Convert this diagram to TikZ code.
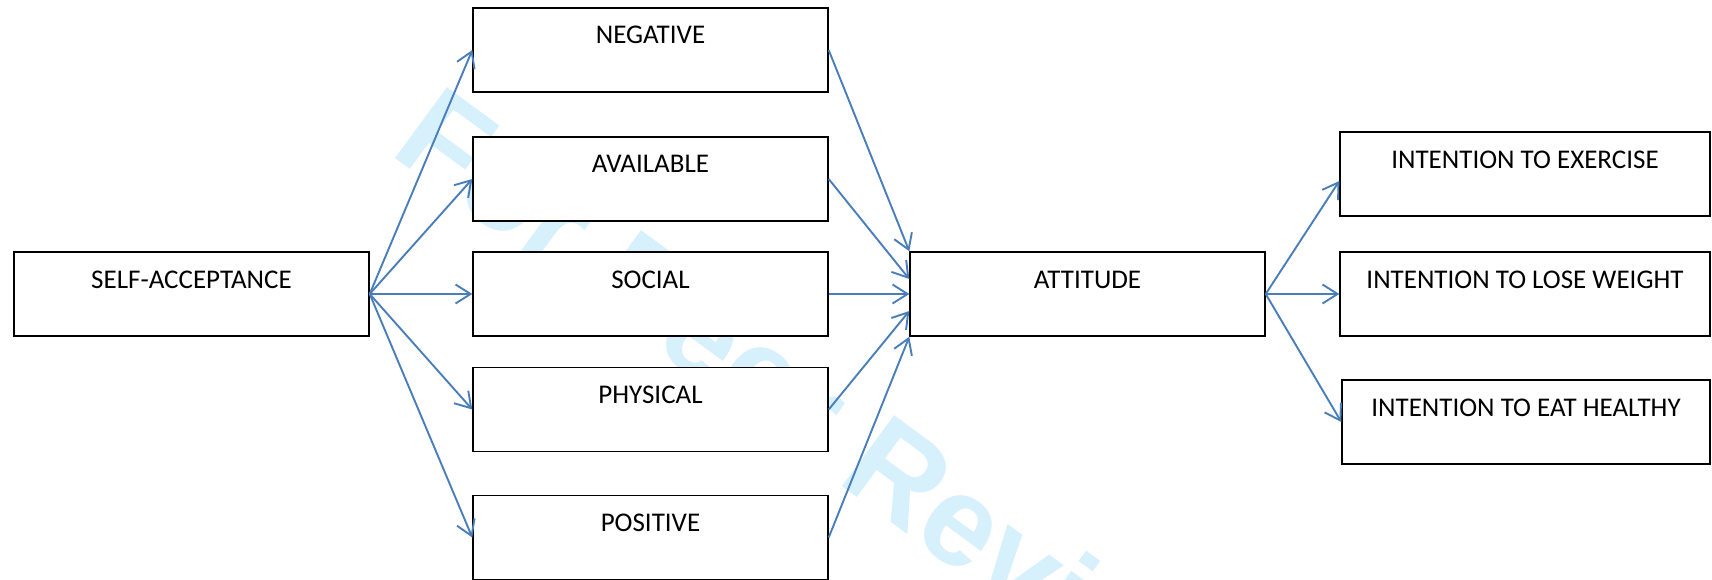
\documentclass[tikz,border=0pt]{standalone}
\usepackage{fontspec}
\setmainfont{Carlito}
\newfontfamily\wmfont{Liberation Sans}
\usetikzlibrary{arrows.meta,calc}
\definecolor{arrowblue}{RGB}{74,126,187}
\definecolor{wmcyan}{RGB}{214,240,252}

\begin{document}
\begin{tikzpicture}[x=1pt,y=-1pt,
  box/.style={draw=black, line width=1.4pt, fill=white,
    minimum width=355pt, inner xsep=0pt, inner ysep=0pt,
    text height=36pt, text depth=48pt,
    font=\fontsize{27}{30}\selectfont},
  link/.style={draw=arrowblue, line width=1.9pt,
    -{Straight Barb[length=15pt,width=19pt]}},
  wmark/.style={text=wmcyan, inner sep=0pt, anchor=base west,
    font=\wmfont\bfseries\fontsize{128}{128}\selectfont}]
\useasboundingbox (0,0) rectangle (1712,580);

% background watermark
\node[wmark, rotate=-36.3] (wm) at (388,153) {For Peer Review};

% source
\node[box] (self) at (191.5,294) {SELF-ACCEPTANCE};

% dimensions
\node[box] (neg)   at (650.5,50)    {NEGATIVE};
\node[box] (avail) at (650.5,179)   {AVAILABLE};
\node[box] (soc)   at (650.5,294)   {SOCIAL};
\node[box] (phys)  at (650.5,409.5) {PHYSICAL};
\node[box] (pos)   at (650.5,537.5) {POSITIVE};

% mediator
\node[box] (att) at (1087.5,294) {ATTITUDE};

% outcomes
\node[box, minimum width=370pt] (ex)   at (1525,174) {INTENTION TO EXERCISE};
\node[box, minimum width=370pt] (lose) at (1525,294) {INTENTION TO LOSE WEIGHT};
\node[box, minimum width=368pt] (eat)  at (1526,422) {INTENTION TO EAT HEALTHY};

% paths
\foreach \t in {neg,avail,soc,phys,pos}
  \draw[link] (self.east) -- (\t.west);

\draw[link] (neg.east)   -- (att.north west);
\draw[link] (avail.east) -- ($(att.west)+(0,-15)$);
\draw[link] (soc.east)   -- (att.west);
\draw[link] (phys.east)  -- ($(att.west)+(0,17)$);
\draw[link] (pos.east)   -- (att.south west);

\draw[link] (att.east) -- ($(ex.west)+(0,7)$);
\draw[link] (att.east) -- (lose.west);
\draw[link] (att.east) -- (eat.west);
\end{tikzpicture}
\end{document}
